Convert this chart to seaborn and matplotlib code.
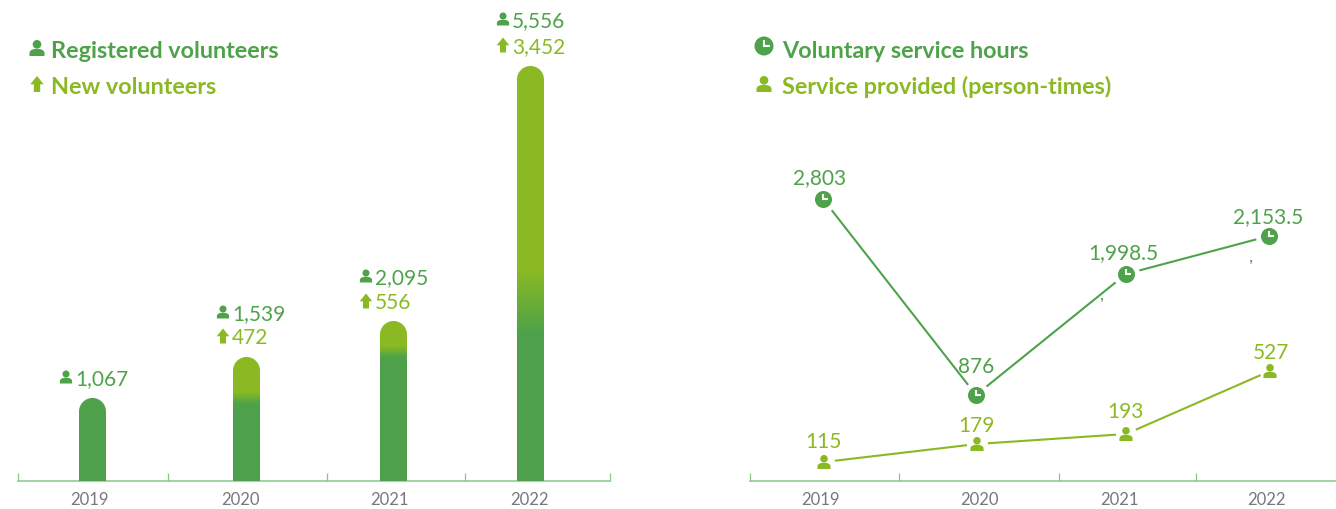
import numpy as np
import pandas as pd
import matplotlib
matplotlib.use("Agg")
import matplotlib.pyplot as plt
from matplotlib.patches import Circle, Polygon, PathPatch
from matplotlib.path import Path
from matplotlib.colors import to_rgb
import seaborn as sns

# ---- data ----
years = ["2019", "2020", "2021", "2022"]
registered_labels = ["1,067", "1,539", "2,095", "5,556"]
new_labels = [None, "472", "556", "3,452"]
# bar heights and gradient limits (chart height units)
bar_heights = [83, 124, 160, 415]
lime_solid_to = [None, 89, 135, 212]
lime_fade_to = [None, 77, 124, 147]

hours_labels = ["2,803", "876", "1,998.5", "2,153.5"]
hours_heights = [282, 86, 207, 245]
service_labels = ["115", "179", "193", "527"]
service_heights = [19, 37, 47, 110]

# ---- layout / style ----
W, H, BASE = 1336, 510, 482
GREEN, LIME, GREY, AXIS = "#4EA24A", "#8BB923", "#77787B", "#86C78A"
FONT = "Lato"
bar_x = [92.5, 246.5, 393.5, 530.5]
BAR_W = 27
sep_left = [18, 168, 327, 465, 610]
year_x_left = [89, 240, 389, 529]
hours_x = [823, 976, 1126, 1269]
service_x = [824, 977, 1126, 1270]
sep_right = [750, 899, 1059, 1196]
year_x_right = [820, 979, 1119, 1266]

sns.set_theme(style="white")
plt.rcParams["font.family"] = [FONT, "DejaVu Sans"]
fig = plt.figure(figsize=(W / 100, H / 100), dpi=100)


def make_axes(x0, x1):
    ax = fig.add_axes([x0 / W, (H - BASE) / H, (x1 - x0) / W, BASE / H])
    ax.patch.set_alpha(0)
    return ax


def finish_axes(ax, x0, x1, seps, year_x):
    ax.set_xlim(x0, x1)
    ax.set_ylim(0, BASE)
    ax.set_xlabel("")
    ax.set_ylabel("")
    ax.set_yticks([])
    for s in ("top", "left", "right"):
        ax.spines[s].set_visible(False)
    ax.spines["bottom"].set_color(AXIS)
    ax.spines["bottom"].set_linewidth(1.1)
    ax.set_xticks(seps)
    ax.set_xticklabels([])
    ax.tick_params(axis="x", which="major", direction="in", length=6,
                   width=0.9, color=AXIS, bottom=True)
    ax.set_xticks(year_x, minor=True)
    ax.set_xticklabels(years, minor=True, fontsize=12, color=GREY)
    ax.tick_params(axis="x", which="minor", length=0, pad=7)


# ---- left: bars ----
axL = make_axes(18, 610)
df_bar = pd.DataFrame({"x": bar_x, "h": bar_heights})
spacing = np.diff(bar_x).min()
sns.barplot(data=df_bar, x="x", y="h", native_scale=True, color=GREEN,
            saturation=1, width=BAR_W / spacing, ax=axL)
finish_axes(axL, 18, 610, sep_left, year_x_left)

green_rgb, lime_rgb = np.array(to_rgb(GREEN)), np.array(to_rgb(LIME))
SS = 8  # supersampling of the round-topped bar image
for bar, solid, fade in zip(list(axL.patches), lime_solid_to, lime_fade_to):
    x0, w, top = bar.get_x(), bar.get_width(), bar.get_height()
    r = w / 2
    # the seaborn rectangle keeps the straight part; the image paints the full round-topped bar
    bar.set_height(top - r)
    nx, ny = int(round(w * SS)), int(round(top * 3))
    xs = (np.arange(nx) + .5) / nx * w - r
    ys = top - (np.arange(ny) + .5) / ny * top
    X, Y = np.meshgrid(xs, ys)
    mask = (Y <= top - r) | (X ** 2 + (Y - (top - r)) ** 2 <= r ** 2)
    if solid is None:
        mix = np.zeros_like(Y)
    else:
        mix = np.clip((Y - fade) / (solid - fade), 0, 1)
    img = np.zeros((ny, nx, 4))
    img[..., :3] = green_rgb + (lime_rgb - green_rgb) * mix[..., None]
    img[..., 3] = mask
    axL.imshow(img, extent=(x0, x0 + w, 0, top), aspect="auto", origin="upper",
               zorder=3, interpolation="hanning", interpolation_stage="rgba")
axL.set_xlim(18, 610)
axL.set_ylim(0, BASE)

# ---- right: lines ----
axR = make_axes(750, 1336)
sns.lineplot(x=hours_x, y=hours_heights, color=GREEN, lw=1.5, ax=axR, zorder=2)
sns.lineplot(x=service_x, y=service_heights, color=LIME, lw=1.5, ax=axR, zorder=2)
sns.scatterplot(x=hours_x, y=hours_heights, color="white", s=380, linewidth=0,
                ax=axR, zorder=3)
sns.scatterplot(x=service_x, y=service_heights, color="white", s=230, linewidth=0,
                ax=axR, zorder=3)
sns.scatterplot(x=hours_x, y=hours_heights, color=GREEN, s=150, linewidth=0,
                ax=axR, zorder=4)
finish_axes(axR, 750, 1336, sep_right, year_x_right)

# ---- overlay in pixel coordinates for icons and labels ----
ov = fig.add_axes([0, 0, 1, 1])
ov.set_xlim(0, W)
ov.set_ylim(H, 0)
ov.axis("off")
ov.patch.set_alpha(0)


def person(cx, cy, h, color):
    ov.add_patch(Circle((cx, cy - 0.23 * h), 0.27 * h, fc=color, ec="none"))
    b = 0.47 * h
    verts = [(cx - b, cy + .5 * h), (cx - b, cy + .32 * h),
             (cx - b, cy + .1 * h), (cx - .12 * h, cy + .06 * h),
             (cx + .12 * h, cy + .06 * h), (cx + b, cy + .1 * h),
             (cx + b, cy + .32 * h), (cx + b, cy + .5 * h),
             (cx - b, cy + .5 * h)]
    codes = [Path.MOVETO, Path.LINETO, Path.CURVE3, Path.CURVE3, Path.LINETO,
             Path.CURVE3, Path.CURVE3, Path.LINETO, Path.CLOSEPOLY]
    ov.add_patch(PathPatch(Path(verts, codes), fc=color, ec="none"))


def arrow(cx, cy, h, color):
    ov.add_patch(Polygon([(cx, cy - .5 * h), (cx + .42 * h, cy + .02 * h),
                          (cx + .2 * h, cy + .02 * h), (cx + .2 * h, cy + .5 * h),
                          (cx - .2 * h, cy + .5 * h), (cx - .2 * h, cy + .02 * h),
                          (cx - .42 * h, cy + .02 * h)], closed=True, fc=color, ec="none"))


def clock(cx, cy, r, color, draw_disc=True):
    if draw_disc:
        ov.add_patch(Circle((cx, cy), r, fc=color, ec="none"))
    ov.plot([cx, cx, cx + .62 * r], [cy - .62 * r, cy, cy], color="white",
            lw=1.5, solid_joinstyle="miter", solid_capstyle="butt")


def label(x, y, s, color, size=15, ha="left", weight="normal"):
    ov.text(x, y + 1, s, color=color, fontsize=size, ha=ha, va="center", fontweight=weight)


# legends
LEG = 16.8
person(37, 49, 16, GREEN)
label(51, 51, "Registered volunteers", GREEN, LEG, weight="bold")
arrow(37, 85, 16, LIME)
label(51, 87, "New volunteers", LIME, LEG, weight="bold")
clock(764, 47, 9.5, GREEN)
label(782, 50, "Voluntary service hours", GREEN, LEG, weight="bold")
person(764, 85, 16, LIME)
label(782, 86, "Service provided (person-times)", LIME, LEG, weight="bold")

# bar labels
reg_pos = [(66, 378), (223, 313), (366, 277), (503, 20)]
new_pos = [None, (223, 337), (366, 302), (503, 46)]
for rp, np_, rl, nl in zip(reg_pos, new_pos, registered_labels, new_labels):
    person(rp[0], rp[1], 13, GREEN)
    label(rp[0] + 9, rp[1], rl, GREEN)
    if nl is not None:
        arrow(np_[0], np_[1], 15, LIME)
        label(np_[0] + 9, np_[1], nl, LIME)

# line labels and icons
hours_lab_pos = [(820, 177), (976, 366), (1123, 252), (1268, 216)]
service_lab_pos = [(823, 441), (976, 425), (1125, 411), (1271, 352)]
for x, h, (lx, ly), s in zip(hours_x, hours_heights, hours_lab_pos, hours_labels):
    clock(x, BASE - h, 8.5, GREEN, draw_disc=False)
    label(lx, ly, s, GREEN, ha="center")
for x, h, (lx, ly), s in zip(service_x, service_heights, service_lab_pos, service_labels):
    person(x, BASE - h, 14, LIME)
    label(lx, ly, s, LIME, ha="center")
label(1251, 256, ",", GREEN, 13, ha="center")
label(1102, 294, ",", GREEN, 13, ha="center")

fig.savefig("out.png", dpi=100)
